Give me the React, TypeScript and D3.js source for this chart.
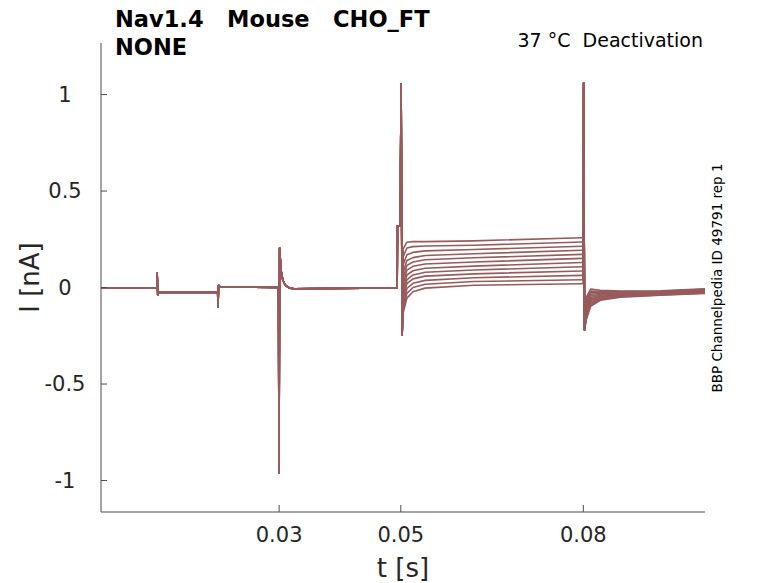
import React from "react";
import * as d3 from "d3";

// Shared part of all sweeps (before the 0.05 s step): time [s], current [nA]
const COMMON_T = [0.00072, 0.0099, 0.00995, 0.01005, 0.0102, 0.0199, 0.01995, 0.02005, 0.0203, 0.0299, 0.02998, 0.03008, 0.0303, 0.0306, 0.031, 0.0318, 0.0325, 0.0494, 0.04945, 0.0499, 0.05005, 0.05022];
const COMMON_I = [-0.002, -0.002, 0.075, -0.04, -0.025, -0.025, -0.1, 0.012, 0.003, 0.0, -0.96, 0.205, 0.09, 0.04, 0.012, -0.004, -0.006, -0.002, 0.32, 0.32, 1.054, -0.245];

// Per-sweep values during the 0.05–0.08 s step
const STEP_T = [0.0504, 0.051, 0.052, 0.054, 0.062, 0.0798];
const RISE_A = [0.2, 0.16, 0.12, 0.08, 0.05, 0.02, -0.01, -0.04, -0.06, -0.09, -0.11, -0.13];
const RISE_B = [0.235, 0.205, 0.17, 0.14, 0.115, 0.09, 0.065, 0.04, 0.02, -0.005, -0.03, -0.055];
const RISE_C = [0.238, 0.212, 0.182, 0.155, 0.132, 0.11, 0.087, 0.065, 0.045, 0.022, 0.0, -0.022];
const RISE_D = [0.238, 0.215, 0.19, 0.166, 0.144, 0.122, 0.1, 0.079, 0.059, 0.037, 0.017, -0.003];
const PLATEAU_MID = [0.242, 0.219, 0.197, 0.175, 0.154, 0.132, 0.111, 0.091, 0.071, 0.051, 0.031, 0.012];
const PLATEAU_END = [0.258, 0.236, 0.214, 0.193, 0.172, 0.151, 0.13, 0.108, 0.086, 0.063, 0.04, 0.02];

// Shared spike at 0.08 s
const SPIKE_T = [0.07995, 0.08005, 0.0802];
const SPIKE_I = [null, 1.06, -0.22];

// Per-sweep tail after 0.08 s
const TAIL_T = [0.0805, 0.0812, 0.0828, 0.0861, 0.0927, 0.1];
const TAIL_1 = [-0.05, -0.06, -0.075, -0.085, -0.095, -0.105, -0.115, -0.125, -0.135, -0.145, -0.155, -0.165];
const TAIL_2 = [-0.008, -0.018, -0.027, -0.035, -0.044, -0.052, -0.06, -0.067, -0.075, -0.083, -0.09, -0.097];
const TAIL_3 = [-0.014, -0.019, -0.025, -0.03, -0.035, -0.04, -0.045, -0.049, -0.054, -0.058, -0.062, -0.066];
const TAIL_4 = [-0.018, -0.021, -0.024, -0.027, -0.03, -0.033, -0.036, -0.039, -0.042, -0.045, -0.048, -0.05];
const TAIL_5 = [-0.017, -0.019, -0.022, -0.024, -0.026, -0.028, -0.03, -0.032, -0.034, -0.036, -0.038, -0.04];
const TAIL_6 = [-0.006, -0.009, -0.012, -0.014, -0.016, -0.018, -0.02, -0.022, -0.024, -0.026, -0.028, -0.031];

const X_TICKS = [0.03, 0.05, 0.08];
const Y_TICKS = [-1, -0.5, 0, 0.5, 1];

const X_DOMAIN = [0.00072, 0.1];
const Y_DOMAIN = [-1.163, 1.267];

const W = 778;
const H = 583;
const M = { left: 101, right: 705, top: 43, bottom: 512 };
const FONT = "DejaVu Sans, sans-serif";
const TRACE = "#985b5b";
const AXIS = "#4d4d4d";
const TEXT = "#262626";

export default function App() {
  const x = d3.scaleLinear().domain(X_DOMAIN).range([M.left, M.right]);
  const y = d3.scaleLinear().domain(Y_DOMAIN).range([M.bottom, M.top]);
  const line = d3
    .line<[number, number]>()
    .x((d) => x(d[0]))
    .y((d) => y(d[1]));

  const sweeps = PLATEAU_MID.map((_, i) => {
    const pts: [number, number][] = [];
    COMMON_T.forEach((t, k) => pts.push([t, COMMON_I[k]]));
    const stepVals = [RISE_A[i], RISE_B[i], RISE_C[i], RISE_D[i], PLATEAU_MID[i], PLATEAU_END[i]];
    STEP_T.forEach((t, k) => pts.push([t, stepVals[k]]));
    SPIKE_T.forEach((t, k) => pts.push([t, SPIKE_I[k] === null ? PLATEAU_END[i] : (SPIKE_I[k] as number)]));
    const tailVals = [TAIL_1[i], TAIL_2[i], TAIL_3[i], TAIL_4[i], TAIL_5[i], TAIL_6[i]];
    TAIL_T.forEach((t, k) => pts.push([t, tailVals[k]]));
    return pts;
  });

  return (
    <svg width={W} height={H} style={{ position: "absolute", left: 0, top: 0, background: "#fff" }}>
      <rect x={0} y={0} width={W} height={H} fill="#fff" />
      <g>
        {sweeps.map((pts, i) => (
          <path key={i} d={line(pts) || ""} fill="none" stroke={TRACE} strokeWidth={1.6} strokeLinejoin="round" />
        ))}
      </g>
      {/* axes */}
      <line x1={M.left} x2={M.left} y1={M.top} y2={M.bottom} stroke={AXIS} strokeWidth={1} />
      <line x1={M.left} x2={M.right} y1={M.bottom} y2={M.bottom} stroke={AXIS} strokeWidth={1} />
      {Y_TICKS.map((v) => (
        <g key={"y" + v}>
          <line x1={M.left} x2={M.left + 6} y1={y(v)} y2={y(v)} stroke={AXIS} />
          <text x={65} y={y(v)} dy="0.35em" textAnchor="middle" fontFamily={FONT} fontSize={21} fill={TEXT}>
            {String(v)}
          </text>
        </g>
      ))}
      {X_TICKS.map((v) => (
        <g key={"x" + v}>
          <line x1={x(v)} x2={x(v)} y1={M.bottom} y2={M.bottom - 7} stroke={AXIS} />
          <text x={x(v)} y={542} textAnchor="middle" fontFamily={FONT} fontSize={21} fill={TEXT}>
            {String(v)}
          </text>
        </g>
      ))}
      <text x={(M.left + M.right) / 2} y={577} textAnchor="middle" fontFamily={FONT} fontSize={26} fill={TEXT}>
        t [s]
      </text>
      <text transform={`translate(39,${(M.top + M.bottom) / 2}) rotate(-90)`} textAnchor="middle" fontFamily={FONT} fontSize={26} fill={TEXT}>
        I [nA]
      </text>
      <text x={115} y={27} fontFamily={FONT} fontSize={22.5} fontWeight="bold" fill="#000" style={{ whiteSpace: "pre" }}>
        {"Nav1.4   Mouse   CHO_FT"}
      </text>
      <text x={115} y={55} fontFamily={FONT} fontSize={22.5} fontWeight="bold" fill="#000">
        NONE
      </text>
      <text x={703} y={47} textAnchor="end" fontFamily={FONT} fontSize={19} fill="#000" style={{ whiteSpace: "pre" }}>
        {"37 °C  Deactivation"}
      </text>
      <text transform={`translate(722,278) rotate(-90)`} textAnchor="middle" fontFamily={FONT} fontSize={13.5} fill="#000">
        BBP Channelpedia ID 49791 rep 1
      </text>
    </svg>
  );
}
